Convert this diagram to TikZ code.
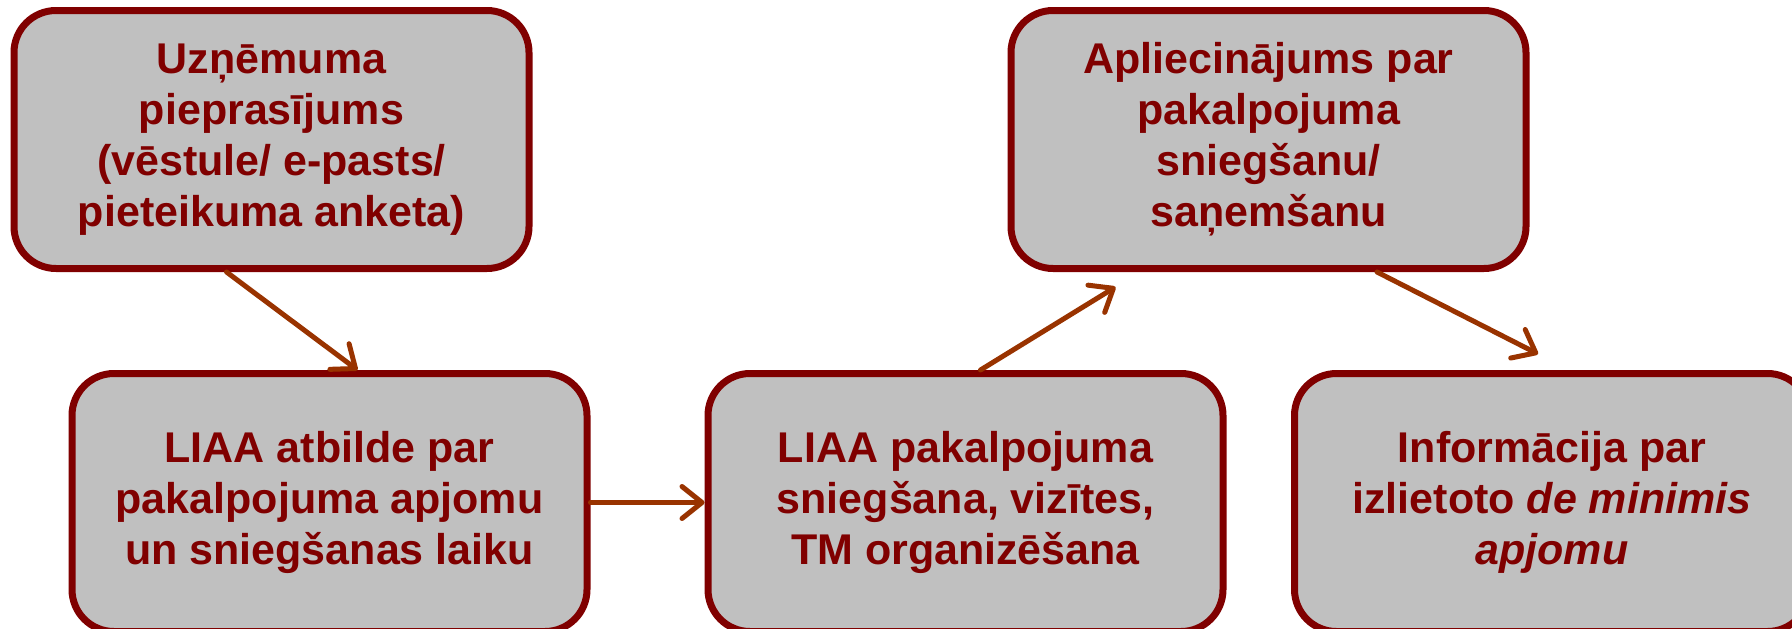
\documentclass[tikz,border=0pt]{standalone}
\usepackage{fontspec}
\setmainfont{Liberation Sans}
\usetikzlibrary{arrows.meta}
\definecolor{boxborder}{HTML}{800000}
\definecolor{boxfill}{HTML}{C0C0C0}
\definecolor{arrowcol}{HTML}{993300}
\begin{document}
\begin{tikzpicture}[x=1pt,y=-1pt,
  stepbox/.style={draw=boxborder, fill=boxfill, line width=7pt, rounded corners=42pt,
    minimum width=515pt, minimum height=258pt, inner sep=0pt, align=center,
    text=boxborder, font=\fontsize{43}{51}\selectfont\bfseries},
  flow/.style={draw=arrowcol, line width=5pt, line cap=round,
    -{Straight Barb[length=20pt,width=32pt,line cap=round,line join=round]}}]
\useasboundingbox (0,0) rectangle (1792,629);
\clip (0,0) rectangle (1792,629);
\node[stepbox] (b1) at (271.5,139.5) {Uzņēmuma\\pieprasījums\\(vēstule/ e-pasts/\\pieteikuma anketa)};
\node[stepbox] (b2) at (329.5,502.5) {LIAA atbilde par\\pakalpojuma apjomu\\un sniegšanas laiku};
\node[stepbox] (b3) at (965.5,502.5) {LIAA pakalpojuma\\sniegšana, vizītes,\\TM organizēšana};
\node[stepbox] (b4) at (1268.5,139.5) {Apliecinājums par\\pakalpojuma\\sniegšanu/\\saņemšanu};
\node[stepbox] (b5) at (1552,502.5) {Informācija par\\izlietoto \textit{de minimis}\\\textit{apjomu}};
\draw[flow] ([xshift=-45pt]b1.south) -- ([xshift=28pt]b2.north);
\draw[flow] (b2.east) -- (b3.west);
\draw[flow] ([xshift=15pt]b3.north) -- ([xshift=-153pt,yshift=-15pt]b4.south);
\draw[flow] ([xshift=108.5pt]b4.south) -- ([xshift=-14pt,yshift=16pt]b5.north);
\end{tikzpicture}
\end{document}
